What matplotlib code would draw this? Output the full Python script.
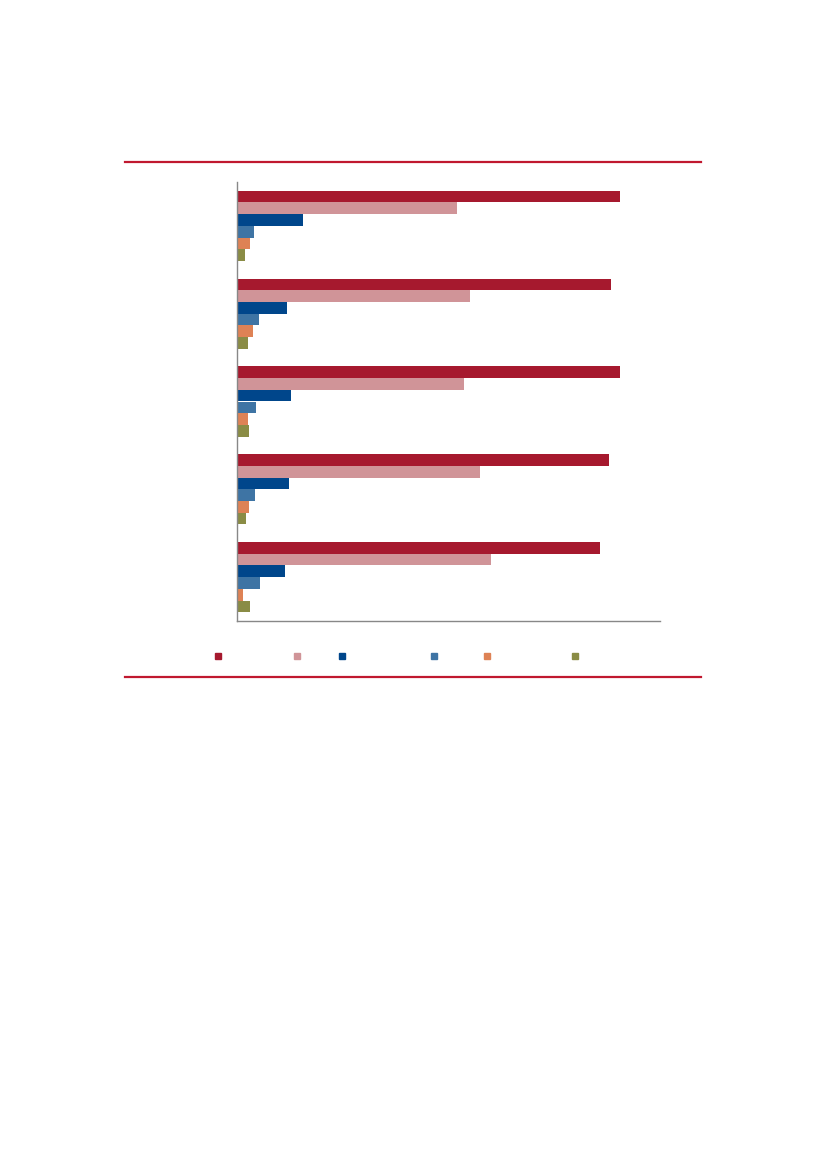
import matplotlib
matplotlib.use("Agg")
import matplotlib.pyplot as plt
from matplotlib.lines import Line2D
import numpy as np

# Data (text labels are not visible in the reference)
categories = ["1", "2", "3", "4", "5"]
series_names = ["s1", "s2", "s3", "s4", "s5", "s6"]
s1 = [45.3, 44.2, 45.3, 44.0, 42.9]
s2 = [26.0, 27.5, 26.8, 28.7, 30.0]
s3 = [7.8, 5.9, 6.4, 6.1, 5.7]
s4 = [2.0, 2.6, 2.2, 2.1, 2.7]
s5 = [1.5, 1.9, 1.3, 1.4, 0.7]
s6 = [0.9, 1.3, 1.4, 1.1, 1.5]
series = [s1, s2, s3, s4, s5, s6]
colors = ["#A6192E", "#D09498", "#00468B", "#3E74A4", "#DE8255", "#8A8C45"]

W, H = 827, 1169
fig = plt.figure(figsize=(W / 100, H / 100), dpi=100)
ax = fig.add_axes([237 / W, 1 - 621 / H, (660 - 237) / W, (621 - 182) / H])

n = len(series)
bh = 0.8 / n
y = np.arange(len(categories))
for i, (vals, c) in enumerate(zip(series, colors)):
    offs = -0.4 + bh * (i + 0.5)
    ax.barh(y + offs, vals, height=bh, color=c, edgecolor="none")

ax.set_ylim(len(categories) - 0.5, -0.5)
ax.set_xlim(0, 50)
ax.set_yticks(y)
ax.set_yticklabels([""] * len(categories))
ax.set_xticks([])
ax.tick_params(left=False, bottom=False)
for s in ["top", "right"]:
    ax.spines[s].set_visible(False)
for s in ["left", "bottom"]:
    ax.spines[s].set_color("#888888")
    ax.spines[s].set_linewidth(1.0)

# Legend markers (labels not visible in reference)
leg_x = [218, 297, 342, 434, 487, 575]
for xpos, c in zip(leg_x, colors):
    h = Line2D([], [], marker="s", ls="", color=c, markersize=5)
    fig.legend(handles=[h], labels=[""], loc="center",
               bbox_to_anchor=(xpos / W, 1 - 657 / H),
               frameon=False, handlelength=0.6, handletextpad=0,
               borderpad=0, borderaxespad=0)

# Red rule lines
for yy in [162, 677]:
    fig.add_artist(Line2D([125 / W, 701 / W], [1 - yy / H, 1 - yy / H],
                          color="#C0182F", lw=1.6, transform=fig.transFigure))

fig.savefig("out.png", dpi=100)
